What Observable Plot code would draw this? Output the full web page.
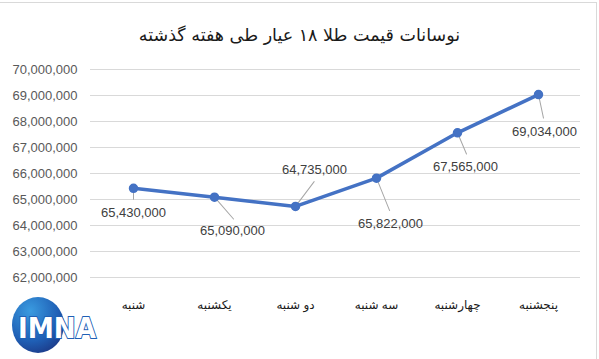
<!DOCTYPE html>
<html><head><meta charset="utf-8">
<script src="https://cdn.jsdelivr.net/npm/d3@7"></script>
<script src="https://cdn.jsdelivr.net/npm/@observablehq/plot@0.6"></script>
<style>
body{margin:0;background:#fff;}
#wrap{position:relative;width:599px;height:359px;overflow:hidden;background:#fff;}
#border{position:absolute;left:-1px;top:2px;width:598px;height:400px;border:1px solid #d9d9d9;box-sizing:border-box;}
#title{position:absolute;left:0;top:23px;width:599px;text-align:center;font-family:"DejaVu Sans",sans-serif;font-size:17.5px;color:#1a1a1a;direction:rtl;line-height:24px;}
#chart{position:absolute;left:0;top:0;}
#logo{position:absolute;left:8px;top:296px;}
</style></head>
<body>
<div id="wrap">
<div id="border"></div>
<div id="chart"></div>
<div id="title">نوسانات قیمت طلا ۱۸ عیار طی هفته گذشته</div>
<svg id="logo" width="100" height="60" viewBox="0 0 100 60">
<defs><radialGradient id="g" cx="0.35" cy="0.25" r="0.9"><stop offset="0" stop-color="#3a9be0"/><stop offset="0.6" stop-color="#1f5fb5"/><stop offset="1" stop-color="#1b2f7a"/></radialGradient></defs>
<ellipse cx="30" cy="29" rx="26" ry="28" fill="url(#g)"/>
<text x="10" y="42" font-family="'DejaVu Sans'" font-weight="bold" font-size="29" fill="#fff" stroke="#1f5fb5" stroke-width="2" paint-order="stroke" textLength="78" lengthAdjust="spacingAndGlyphs">IMNA</text>
</svg>
</div>
<script>
const days = ["شنبه","یکشنبه","دو شنبه","سه شنبه","چهارشنبه","پنجشنبه"];
const prices = [65430000,65090000,64735000,65822000,67565000,69034000];
const yTicks = [62000000,63000000,64000000,65000000,66000000,67000000,68000000,69000000,70000000];

const data = days.map((d,i)=>({day:d, price:prices[i]}));
// label placement (pixel offsets relative to each point)
const labelLayout = [
  {dx:0,  dy:25,  rot:180, len:11},
  {dx:18, dy:34,  rot:139, len:29},
  {dx:19, dy:-37, rot:37,  len:31},
  {dx:14, dy:46,  rot:158, len:35},
  {dx:8,  dy:34,  rot:157, len:23},
  {dx:6,  dy:37,  rot:168, len:24}
];
const fmt = d3.format(",");
const leaderShape = {draw(ctx, l){ctx.moveTo(0,0); ctx.lineTo(0,-l);}};

const marks = [
  Plot.ruleY(yTicks, {stroke:"#d9d9d9", strokeWidth:1}),
];
data.forEach((d,i)=>{
  const L = labelLayout[i];
  marks.push(Plot.vector([d], {x:"day", y:"price", length:L.len, rotate:L.rot, anchor:"start", shape:leaderShape, stroke:"#a6a6a6", strokeWidth:1}));
});
marks.push(Plot.line(data, {x:"day", y:"price", stroke:"#4472C4", strokeWidth:3.5}));
marks.push(Plot.dot(data, {x:"day", y:"price", r:4, fill:"#4472C4", stroke:"#4472C4"}));
data.forEach((d,i)=>{
  const L = labelLayout[i];
  marks.push(Plot.text([d], {x:"day", y:"price", text:dd=>fmt(dd.price), dx:L.dx, dy:L.dy, fill:"#404040", fontSize:13, textAnchor:"middle", lineAnchor:"middle"}));
});

const chart = Plot.plot({
  width:599, height:359,
  marginTop:69, marginBottom:82, marginLeft:90, marginRight:19,
  style:{fontFamily:"'Liberation Sans','DejaVu Sans',sans-serif", fontSize:"13px", color:"#595959", background:"transparent"},
  x:{type:"point", domain:days, padding:0.5, label:null, tickSize:0, tickPadding:23},
  y:{domain:[62000000,70000000], ticks:yTicks, tickFormat:fmt, label:null, tickSize:0, tickPadding:13},
  marks
});
chart.querySelectorAll('[aria-label="x-axis tick label"] text, [aria-label="x-axis"] text').forEach(t=>{t.setAttribute("font-size","12");t.setAttribute("fill","#1a1a1a");});
document.getElementById("chart").appendChild(chart);
</script>
</body></html>
